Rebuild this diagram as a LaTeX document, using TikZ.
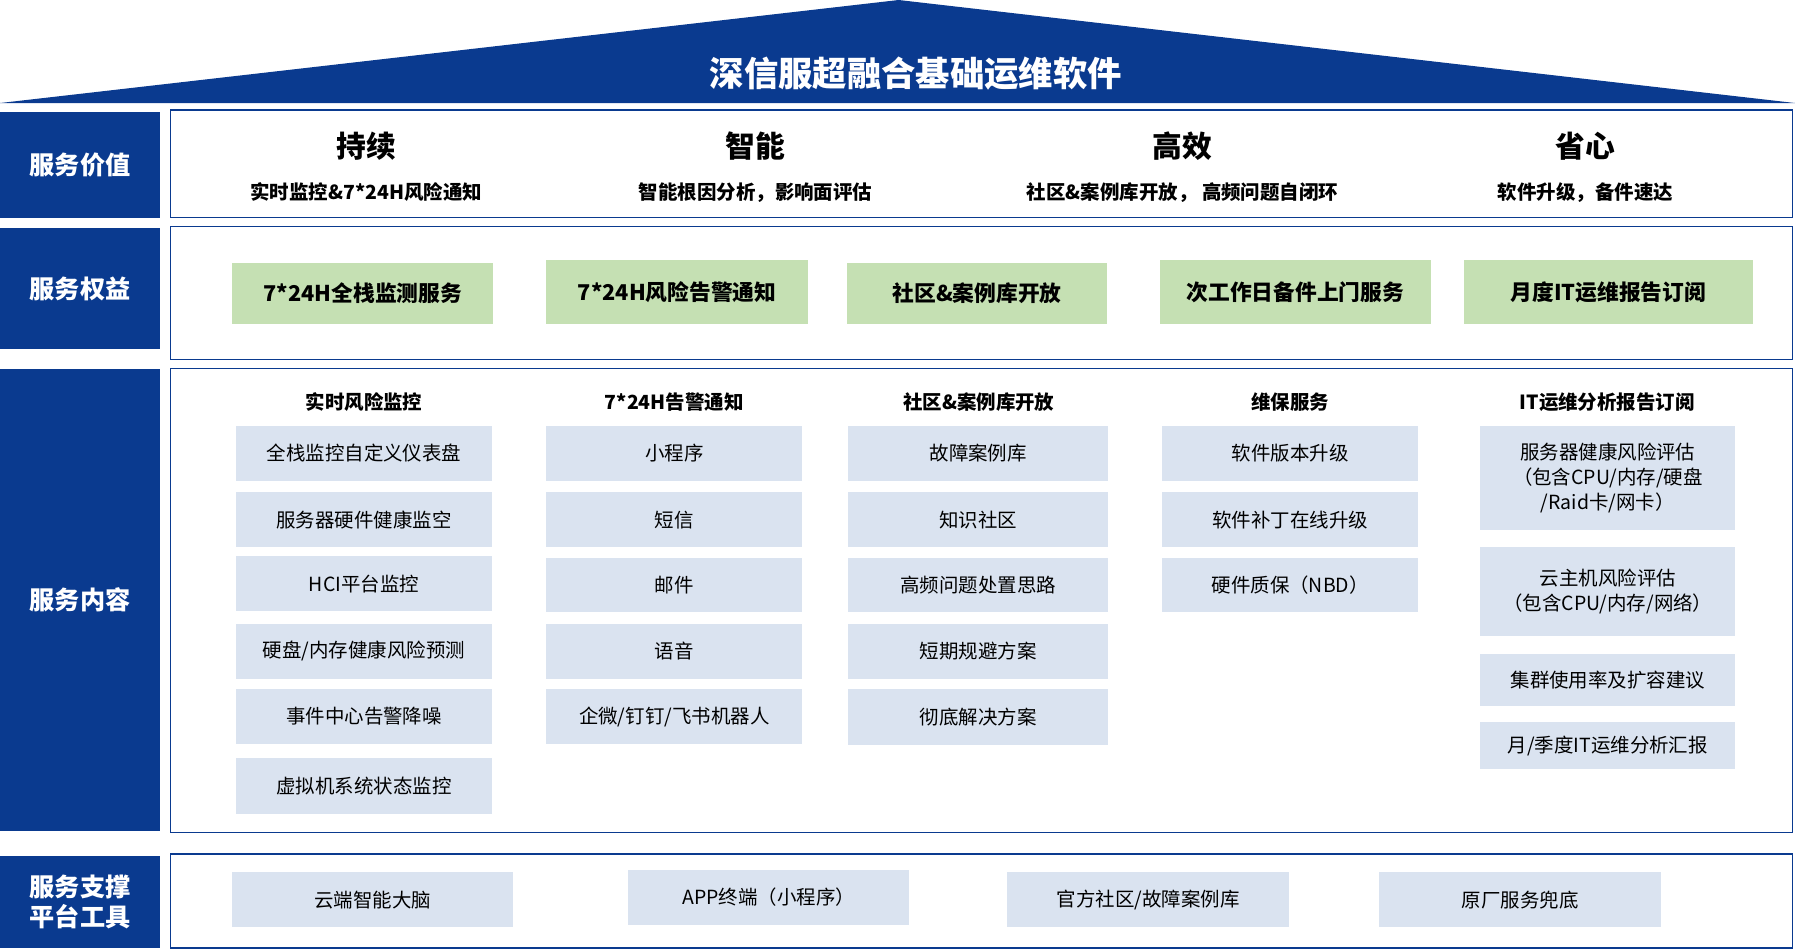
\documentclass[tikz,border=0pt]{standalone}
\usepackage{fontspec}
\setmainfont{Noto Sans CJK SC}
\definecolor{db}{HTML}{0A3A8F}
\definecolor{gr}{HTML}{C5E0B3}
\definecolor{lb}{HTML}{DAE3F0}
\tikzset{
 lab/.style={fill=db,text=white,font=\fontsize{22}{26}\selectfont\bfseries,align=center},
 frame/.style={draw=db,line width=1.2pt},
 gbox/.style={fill=gr,font=\fontsize{19}{22}\selectfont\bfseries},
 bbox/.style={fill=lb,font=\fontsize{17}{22}\selectfont,align=center},
 hd/.style={font=\fontsize{17}{20}\selectfont\bfseries},
}
\newcommand{\bx}[6]{\node[#1,minimum width=#4pt-#2pt,minimum height=#5pt-#3pt,inner sep=0pt] (#6) at ({(#2+#4)/2},{-(#3+#5)/2})}
\begin{document}
\begin{tikzpicture}[x=1pt,y=1pt]
\useasboundingbox (0,0) rectangle (1568,-829);
% roof
\fill[db] (0,-90) -- (785,0) -- (1568,-90) -- cycle;
\node[text=white,font=\fontsize{30}{34}\selectfont\bfseries] (title) at (800,-64) {深信服超融合基础运维软件};
% left labels
\bx{lab}{0}{98}{140}{190}{l1} {服务价值};
\bx{lab}{0}{199}{140}{305}{l2} {服务权益};
\bx{lab}{0}{322}{140}{726}{l3} {服务内容};
\bx{lab}{0}{748}{140}{828}{l4} {服务支撑\\平台工具};
% frames
\bx{frame}{149}{96}{1566}{190}{f1} {};
\bx{frame}{149}{198}{1566}{314}{f2} {};
\bx{frame}{149}{322}{1566}{727}{f3} {};
\bx{frame}{149}{746}{1566}{828}{f4} {};
% row 1
\foreach \x/\a/\b [count=\i] in {320/持续/实时监控\&7*24H风险通知,660/智能/智能根因分析，影响面评估,1033/高效/社区\&案例库开放， 高频问题自闭环,1385/省心/软件升级，备件速达}{
 \node[font=\fontsize{26}{30}\selectfont\bfseries] (v\i) at (\x,-128) {\a};
 \node[font=\fontsize{17}{20}\selectfont\bfseries] (s\i) at (\x,-168) {\b};
}
% row 2
\bx{gbox}{203}{230}{431}{283}{g1} {7*24H全栈监测服务};
\bx{gbox}{477}{227}{706}{283}{g2} {7*24H风险告警通知};
\bx{gbox}{740}{230}{967}{283}{g3} {社区\&案例库开放};
\bx{gbox}{1013}{227}{1250}{283}{g4} {次工作日备件上门服务};
\bx{gbox}{1279}{227}{1531}{283}{g5} {月度IT运维报告订阅};
% row 3 headers
\node[hd] (h1) at (318,-351) {实时风险监控};
\node[hd] (h2) at (589,-351) {7*24H告警通知};
\node[hd] (h3) at (855,-351) {社区\&案例库开放};
\node[hd] (h4) at (1127,-351) {维保服务};
\node[hd] (h5) at (1404,-351) {IT运维分析报告订阅};
% col1
\bx{bbox}{206}{372}{430}{420}{a1} {全栈监控自定义仪表盘};
\bx{bbox}{206}{430}{430}{478}{a2} {服务器硬件健康监空};
\bx{bbox}{206}{486}{430}{534}{a3} {HCI平台监控};
\bx{bbox}{206}{545}{430}{593}{a4} {硬盘/内存健康风险预测};
\bx{bbox}{206}{602}{430}{650}{a5} {事件中心告警降噪};
\bx{bbox}{206}{662}{430}{711}{a6} {虚拟机系统状态监控};
% col2
\bx{bbox}{477}{372}{701}{420}{b1} {小程序};
\bx{bbox}{477}{430}{701}{478}{b2} {短信};
\bx{bbox}{477}{487}{701}{535}{b3} {邮件};
\bx{bbox}{477}{545}{701}{593}{b4} {语音};
\bx{bbox}{477}{602}{701}{650}{b5} {企微/钉钉/飞书机器人};
% col3
\bx{bbox}{741}{372}{968}{420}{c1} {故障案例库};
\bx{bbox}{741}{430}{968}{478}{c2} {知识社区};
\bx{bbox}{741}{487}{968}{535}{c3} {高频问题处置思路};
\bx{bbox}{741}{545}{968}{593}{c4} {短期规避方案};
\bx{bbox}{741}{602}{968}{651}{c5} {彻底解决方案};
% col4
\bx{bbox}{1015}{372}{1239}{420}{d1} {软件版本升级};
\bx{bbox}{1015}{430}{1239}{478}{d2} {软件补丁在线升级};
\bx{bbox}{1015}{487}{1239}{535}{d3} {硬件质保（NBD）};
% col5
\bx{bbox}{1293}{372}{1516}{463}{e1} {服务器健康风险评估\\（包含CPU/内存/硬盘\\/Raid卡/网卡）};
\bx{bbox}{1293}{478}{1516}{556}{e2} {云主机风险评估\\（包含CPU/内存/网络）};
\bx{bbox}{1293}{571}{1516}{617}{e3} {集群使用率及扩容建议};
\bx{bbox}{1293}{631}{1516}{672}{e4} {月/季度IT运维分析汇报};
% row 4
\bx{bbox}{203}{762}{448}{810}{p1} {云端智能大脑};
\bx{bbox}{549}{760}{794}{808}{p2} {APP终端（小程序）};
\bx{bbox}{880}{762}{1126}{810}{p3} {官方社区/故障案例库};
\bx{bbox}{1205}{762}{1451}{810}{p4} {原厂服务兜底};
\end{tikzpicture}
\end{document}
